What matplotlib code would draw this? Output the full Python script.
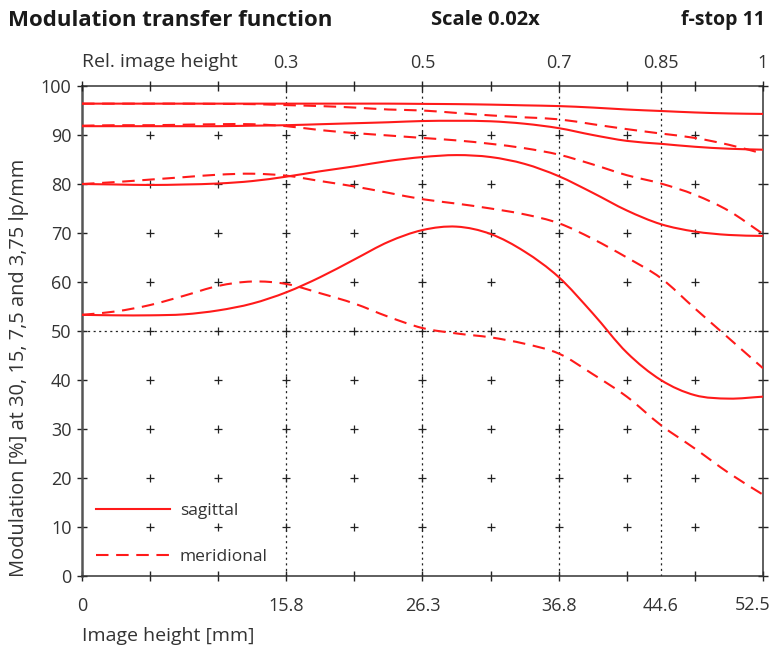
import numpy as np
import matplotlib
matplotlib.use('Agg')
import matplotlib.pyplot as plt
from matplotlib.path import Path
from matplotlib.patches import PathPatch

# Image height sample positions [mm] (steps of 0.05 relative image height)
image_height_mm = [0.0, 2.625, 5.25, 7.875, 10.5, 13.125, 15.75, 18.375, 21.0, 23.625,
                   26.25, 28.875, 31.5, 34.125, 36.75, 39.375, 42.0, 44.625, 47.25, 49.875, 52.5]

# MTF [%] per spatial frequency, sagittal (solid) and meridional (dashed)
sag_375 = [96.4, 96.4, 96.4, 96.4, 96.4, 96.4, 96.4, 96.4, 96.4, 96.4,
           96.35, 96.3, 96.2, 96.05, 95.9, 95.6, 95.2, 94.9, 94.6, 94.4, 94.3]
mer_375 = [96.4, 96.4, 96.4, 96.4, 96.35, 96.3, 96.1, 95.9, 95.6, 95.2,
           95.0, 94.5, 94.0, 93.6, 93.2, 92.2, 91.2, 90.3, 89.4, 88.0, 86.2]
sag_75 = [91.8, 91.8, 91.8, 91.8, 91.8, 91.9, 92.0, 92.2, 92.4, 92.6,
          92.85, 92.9, 92.8, 92.3, 91.4, 90.0, 88.8, 88.2, 87.6, 87.2, 87.0]
mer_75 = [91.9, 92.0, 92.0, 92.1, 92.2, 92.2, 91.8, 91.0, 90.4, 89.9,
          89.4, 88.9, 88.2, 87.3, 86.0, 84.0, 81.8, 80.1, 77.8, 74.5, 69.8]
sag_15 = [80.0, 79.9, 79.8, 79.9, 80.1, 80.6, 81.5, 82.6, 83.6, 84.7,
          85.5, 85.9, 85.5, 84.1, 81.6, 78.2, 74.6, 71.8, 70.3, 69.6, 69.4]
mer_15 = [80.0, 80.4, 80.9, 81.4, 81.9, 82.1, 81.7, 80.6, 79.5, 78.2,
          76.9, 76.0, 75.0, 73.8, 72.0, 68.8, 65.0, 60.8, 54.6, 48.5, 42.4]
sag_30 = [53.3, 53.2, 53.2, 53.4, 54.2, 55.6, 57.9, 61.0, 64.6, 68.2,
          70.6, 71.3, 69.8, 66.2, 61.0, 53.6, 45.6, 40.0, 36.9, 36.2, 36.6]
mer_30 = [53.3, 54.0, 55.3, 57.2, 59.2, 60.1, 59.6, 57.7, 55.6, 52.9,
          50.6, 49.5, 48.7, 47.4, 45.4, 41.2, 36.6, 30.8, 26.0, 21.0, 16.6]

# Axis labelling
max_height_mm = 52.5
bottom_label_pos = [0, 15.75, 26.25, 36.75, 44.625]
bottom_labels = ['0', '15.8', '26.3', '36.8', '44.6']
end_label = '52.5'
rel_heights = [0.3, 0.5, 0.7, 0.85, 1.0]
rel_labels = ['0.3', '0.5', '0.7', '0.85', '1']

plt.rcParams['font.family'] = ['Open Sans', 'DejaVu Sans']
plt.rcParams['lines.scale_dashes'] = False
text_color = '#333333'
red = '#ff1a1a'
dash = (0, (9, 5.5))


def smooth_curve(ax, x, y, **kw):
  # Catmull-Rom through the samples, drawn as cubic Bezier segments
  p = np.column_stack([x, y])
  ext = np.vstack([2*p[0] - p[1], p, 2*p[-1] - p[-2]])
  verts = [p[0]]
  codes = [Path.MOVETO]
  for i in range(1, len(ext) - 2):
    p0, p1, p2, p3 = ext[i-1], ext[i], ext[i+1], ext[i+2]
    verts += [p1 + (p2 - p0)/6, p2 - (p3 - p1)/6, p2]
    codes += [Path.CURVE4]*3
  ax.add_patch(PathPatch(Path(verts, codes), fill=False, **kw))


fig = plt.figure(figsize=(7.71, 6.47), dpi=100)
ax = fig.add_axes([82/771, 1 - 576/647, 681/771, 490/647])

# helper lines: relative-height verticals and the 50 % horizontal
for x in [r*max_height_mm for r in rel_heights[:-1]]:
  ax.axvline(x, color='#222222', lw=0.9, ls=(0, (1.5, 2.5)), zorder=1)
ax.axhline(50, color='#222222', lw=0.9, ls=(0, (1.5, 2.5)), zorder=1)

# cross markers every 0.1 relative height and 10 %
grid_x = np.arange(1, 10)*max_height_mm/10
grid_y = np.arange(10, 100, 10)
gx, gy = np.meshgrid(grid_x, grid_y)
ax.plot(gx.ravel(), gy.ravel(), ls='none', marker='+', ms=6, mew=0.9, color='#222222', zorder=2)

for sag, mer in [(sag_375, mer_375), (sag_75, mer_75), (sag_15, mer_15), (sag_30, mer_30)]:
  smooth_curve(ax, image_height_mm, sag, edgecolor=red, lw=1.5, zorder=3)
  smooth_curve(ax, image_height_mm, mer, edgecolor=red, lw=1.5, ls=dash, zorder=3)

# legend entries
ax.plot([], [], color=red, lw=1.5, label='sagittal')
ax.plot([], [], color=red, lw=1.5, ls=dash, label='meridional')
leg = ax.legend(loc='lower left', bbox_to_anchor=(0.02, 0.022),
                frameon=False, fontsize=12.5, handlelength=4.3, handletextpad=0.55,
                labelspacing=1.72, borderpad=0, borderaxespad=0)
for t in leg.get_texts():
  t.set_color(text_color)

ax.set_xlim(0, max_height_mm)
ax.set_ylim(0, 100)

# bottom axis: ticks every 0.1 rel. height, labels at the reference heights
ax.xaxis.remove_overlapping_locs = False
ax.set_xticks(np.arange(0, 11)*max_height_mm/10)
ax.set_xticklabels([])
ax.set_xticks(bottom_label_pos, bottom_labels, minor=True)
ax.tick_params(axis='x', which='major', direction='inout', length=7, width=1, color='#222222')
ax.tick_params(axis='x', which='minor', length=0, pad=15, labelsize=13, labelcolor=text_color)
# last label sits flush with the right edge
ax.annotate(end_label, xy=(max_height_mm, 0), xycoords='data', xytext=(7, -29),
            textcoords='offset pixels', ha='right', va='center', fontsize=13,
            color=text_color, annotation_clip=False)
ax.set_yticks(np.arange(0, 101, 10))
ax.tick_params(axis='y', which='major', direction='inout', length=7, width=1, color='#222222',
               right=True, labelsize=13, labelcolor=text_color, pad=4)

for side in ['left', 'bottom', 'top', 'right']:
  ax.spines[side].set_color('#333333')
  ax.spines[side].set_linewidth(1.1)
ax.spines['left'].set_color('#555555')
ax.spines['left'].set_linewidth(1.8)

ax.set_xlabel('Image height [mm]', fontsize=14, color=text_color, loc='left', labelpad=9)
ylab = ax.set_ylabel('Modulation [%] at 30, 15, 7,5 and 3,75 lp/mm', fontsize=14, color=text_color)
ax.yaxis.set_label_coords(-0.078, 0.4255)

# top axis in relative image height
top = ax.twiny()
top.set_xlim(ax.get_xlim())
top.xaxis.remove_overlapping_locs = False
top.set_xticks(list(np.arange(0, 11)*max_height_mm/10) + [0.85*max_height_mm])
top.set_xticklabels([])
top.set_xticks([r*max_height_mm for r in rel_heights], rel_labels, minor=True)
top.tick_params(axis='x', which='major', direction='inout', length=7, width=1, color='#222222')
top.tick_params(axis='x', which='minor', length=0, pad=10, labelsize=13, labelcolor=text_color)
for side in top.spines:
  top.spines[side].set_visible(False)
fig.text(82/771, 1 - 62/647, 'Rel. image height', fontsize=14, color=text_color, va='center', ha='left')

# header row
fig.text(8/771, 1 - 20/647, 'Modulation transfer function', fontsize=16, fontweight='bold',
         color='#1a1a1a', va='center', ha='left')
fig.text(485/771, 1 - 20/647, 'Scale 0.02x', fontsize=14.5, fontweight='bold',
         color='#1a1a1a', va='center', ha='center')
fig.text(765/771, 1 - 20/647, 'f-stop 11', fontsize=14, fontweight='bold',
         color='#1a1a1a', va='center', ha='right')

# fit the long y label to ~421 px along the axis
fig.canvas.draw()
label_px = ylab.get_window_extent().height
ylab.set_fontsize(ylab.get_fontsize()*421/label_px)

fig.savefig('out.png', dpi=100)
